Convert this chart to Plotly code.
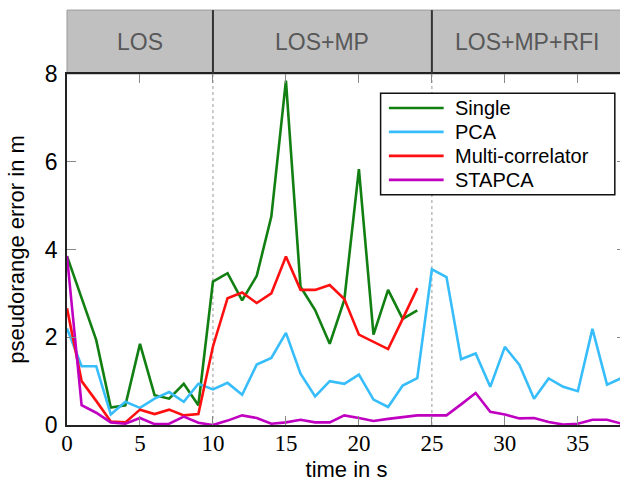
import plotly.graph_objects as go

t_short = list(range(0, 25))
t_long = list(range(0, 39))

single = [3.85, 2.9, 1.94, 0.4, 0.45, 1.85, 0.68, 0.6, 0.94, 0.45, 3.27, 3.46, 2.84, 3.4,
          4.75, 7.85, 3.15, 2.62, 1.85, 2.85, 5.83, 2.06, 3.08, 2.42, 2.61]
pca = [2.2, 1.34, 1.34, 0.24, 0.53, 0.39, 0.6, 0.75, 0.53, 0.94, 0.81, 0.96, 0.69, 1.38,
       1.53, 2.1, 1.17, 0.65, 1.0, 0.94, 1.15, 0.58, 0.41, 0.9, 1.07, 3.55, 3.37, 1.5,
       1.63, 0.87, 1.78, 1.37, 0.6, 1.06, 0.87, 0.77, 2.19, 0.92, 1.07]
multi = [2.66, 1.0, 0.55, 0.08, 0.06, 0.35, 0.25, 0.35, 0.22, 0.25, 1.79, 2.89, 3.02, 2.78,
         3.0, 3.84, 3.08, 3.08, 3.19, 2.87, 2.06, 1.9, 1.73, 2.42, 3.12]
stapca = [3.85, 0.45, 0.28, 0.06, 0.03, 0.16, 0.02, 0.03, 0.19, 0.05, 0.0, 0.1, 0.22, 0.16,
          0.03, 0.06, 0.12, 0.06, 0.06, 0.22, 0.16, 0.09, 0.14, 0.18, 0.22, 0.22, 0.22, 0.47,
          0.73, 0.3, 0.24, 0.15, 0.16, 0.07, 0.01, 0.03, 0.12, 0.12, 0.03]

series_names = ["Single", "PCA", "Multi-correlator", "STAPCA"]
phase_labels = ["LOS", "LOS+MP", "LOS+MP+RFI"]
phase_bounds = [0, 10, 25, 38]
x_ticks = [0, 5, 10, 15, 20, 25, 30, 35]
y_ticks = [0, 2, 4, 6, 8]

SANS = "Liberation Sans, Arial, Helvetica, sans-serif"
SERIF = "Liberation Serif, DejaVu Serif, serif"
colors = ["#127f12", "#38bdfb", "#ff1010", "#c000c0"]

fig = go.Figure()
xs_list = [t_short, t_long, t_short, t_long]
ys_list = [single, pca, multi, stapca]
for name, xs, ys, col in zip(series_names, xs_list, ys_list, colors):
    fig.add_trace(go.Scatter(x=xs, y=ys, mode="lines", name=name,
                             line=dict(color=col, width=2.6)))

# phase header band above the plot
HB = 1 + 64 / 351.5
shapes = [
    dict(type="rect", xref="paper", yref="paper", x0=0, x1=1, y0=1, y1=HB,
         fillcolor="#c0c0c0", line=dict(color="#9a9a9a", width=1), layer="below"),
]
for b in phase_bounds[1:-1]:
    shapes.append(dict(type="line", xref="x", yref="paper", x0=b, x1=b, y0=1, y1=HB,
                       line=dict(color="#333333", width=2)))
    shapes.append(dict(type="line", xref="x", yref="paper", x0=b, x1=b, y0=0, y1=1,
                       line=dict(color="#aaaaaa", width=1.2, dash="dot"), layer="below"))

annotations = []
for i, lab in enumerate(phase_labels):
    annotations.append(dict(x=(phase_bounds[i] + phase_bounds[i + 1]) / 2, xref="x",
                            y=(1 + HB) / 2, yref="paper", text=lab, showarrow=False,
                            xanchor="center", yanchor="middle",
                            font=dict(family=SANS, size=23, color="#585858")))

# legend box (drawn manually for compact row spacing)
shapes.append(dict(type="rect", xref="paper", yref="paper", x0=0.561, x1=0.980,
                   y0=0.656, y1=0.945, fillcolor="white",
                   line=dict(color="#111111", width=1.5)))
leg_y = [0.9033, 0.835, 0.7667, 0.6984]
for name, col, yy in zip(series_names, colors, leg_y):
    shapes.append(dict(type="line", xref="paper", yref="paper", x0=0.5758, x1=0.6738,
                       y0=yy, y1=yy, line=dict(color=col, width=2.6)))
    annotations.append(dict(x=0.690, y=yy, xref="paper", yref="paper", text=name,
                            showarrow=False, xanchor="left", yanchor="middle",
                            font=dict(family=SANS, size=20, color="black")))

fig.update_layout(
    width=628, height=484,
    margin=dict(l=67, r=0, t=74, b=58.5),
    paper_bgcolor="white", plot_bgcolor="white",
    shapes=shapes, annotations=annotations,
    showlegend=False,
    xaxis=dict(range=[0, 38.3], tickvals=x_ticks, ticks="inside", ticklen=9,
               tickcolor="#888888", tickwidth=1.2, showgrid=False, zeroline=False,
               showline=True, linecolor="#222222", linewidth=1.8, mirror="ticks",
               ticklabelstandoff=-4,
               tickfont=dict(family=SERIF, size=23, color="black"),
               title=dict(text="time in s", standoff=7,
                          font=dict(family=SANS, size=22, color="black"))),
    yaxis=dict(range=[0, 8], tickvals=y_ticks, ticks="inside", ticklen=9,
               tickcolor="#888888", tickwidth=1.2, showgrid=False, zeroline=False,
               showline=True, linecolor="#222222", linewidth=1.8, mirror="ticks",
               ticklabelstandoff=3,
               tickfont=dict(family=SANS, size=23, color="black"),
               title=dict(text="pseudorange error in m", standoff=14,
                          font=dict(family=SANS, size=22, color="black"))),
)

fig.write_html("out.html",
               config={"displayModeBar": False},
               post_script="document.body.style.margin='0';"
                           "document.body.style.overflow='hidden';")
